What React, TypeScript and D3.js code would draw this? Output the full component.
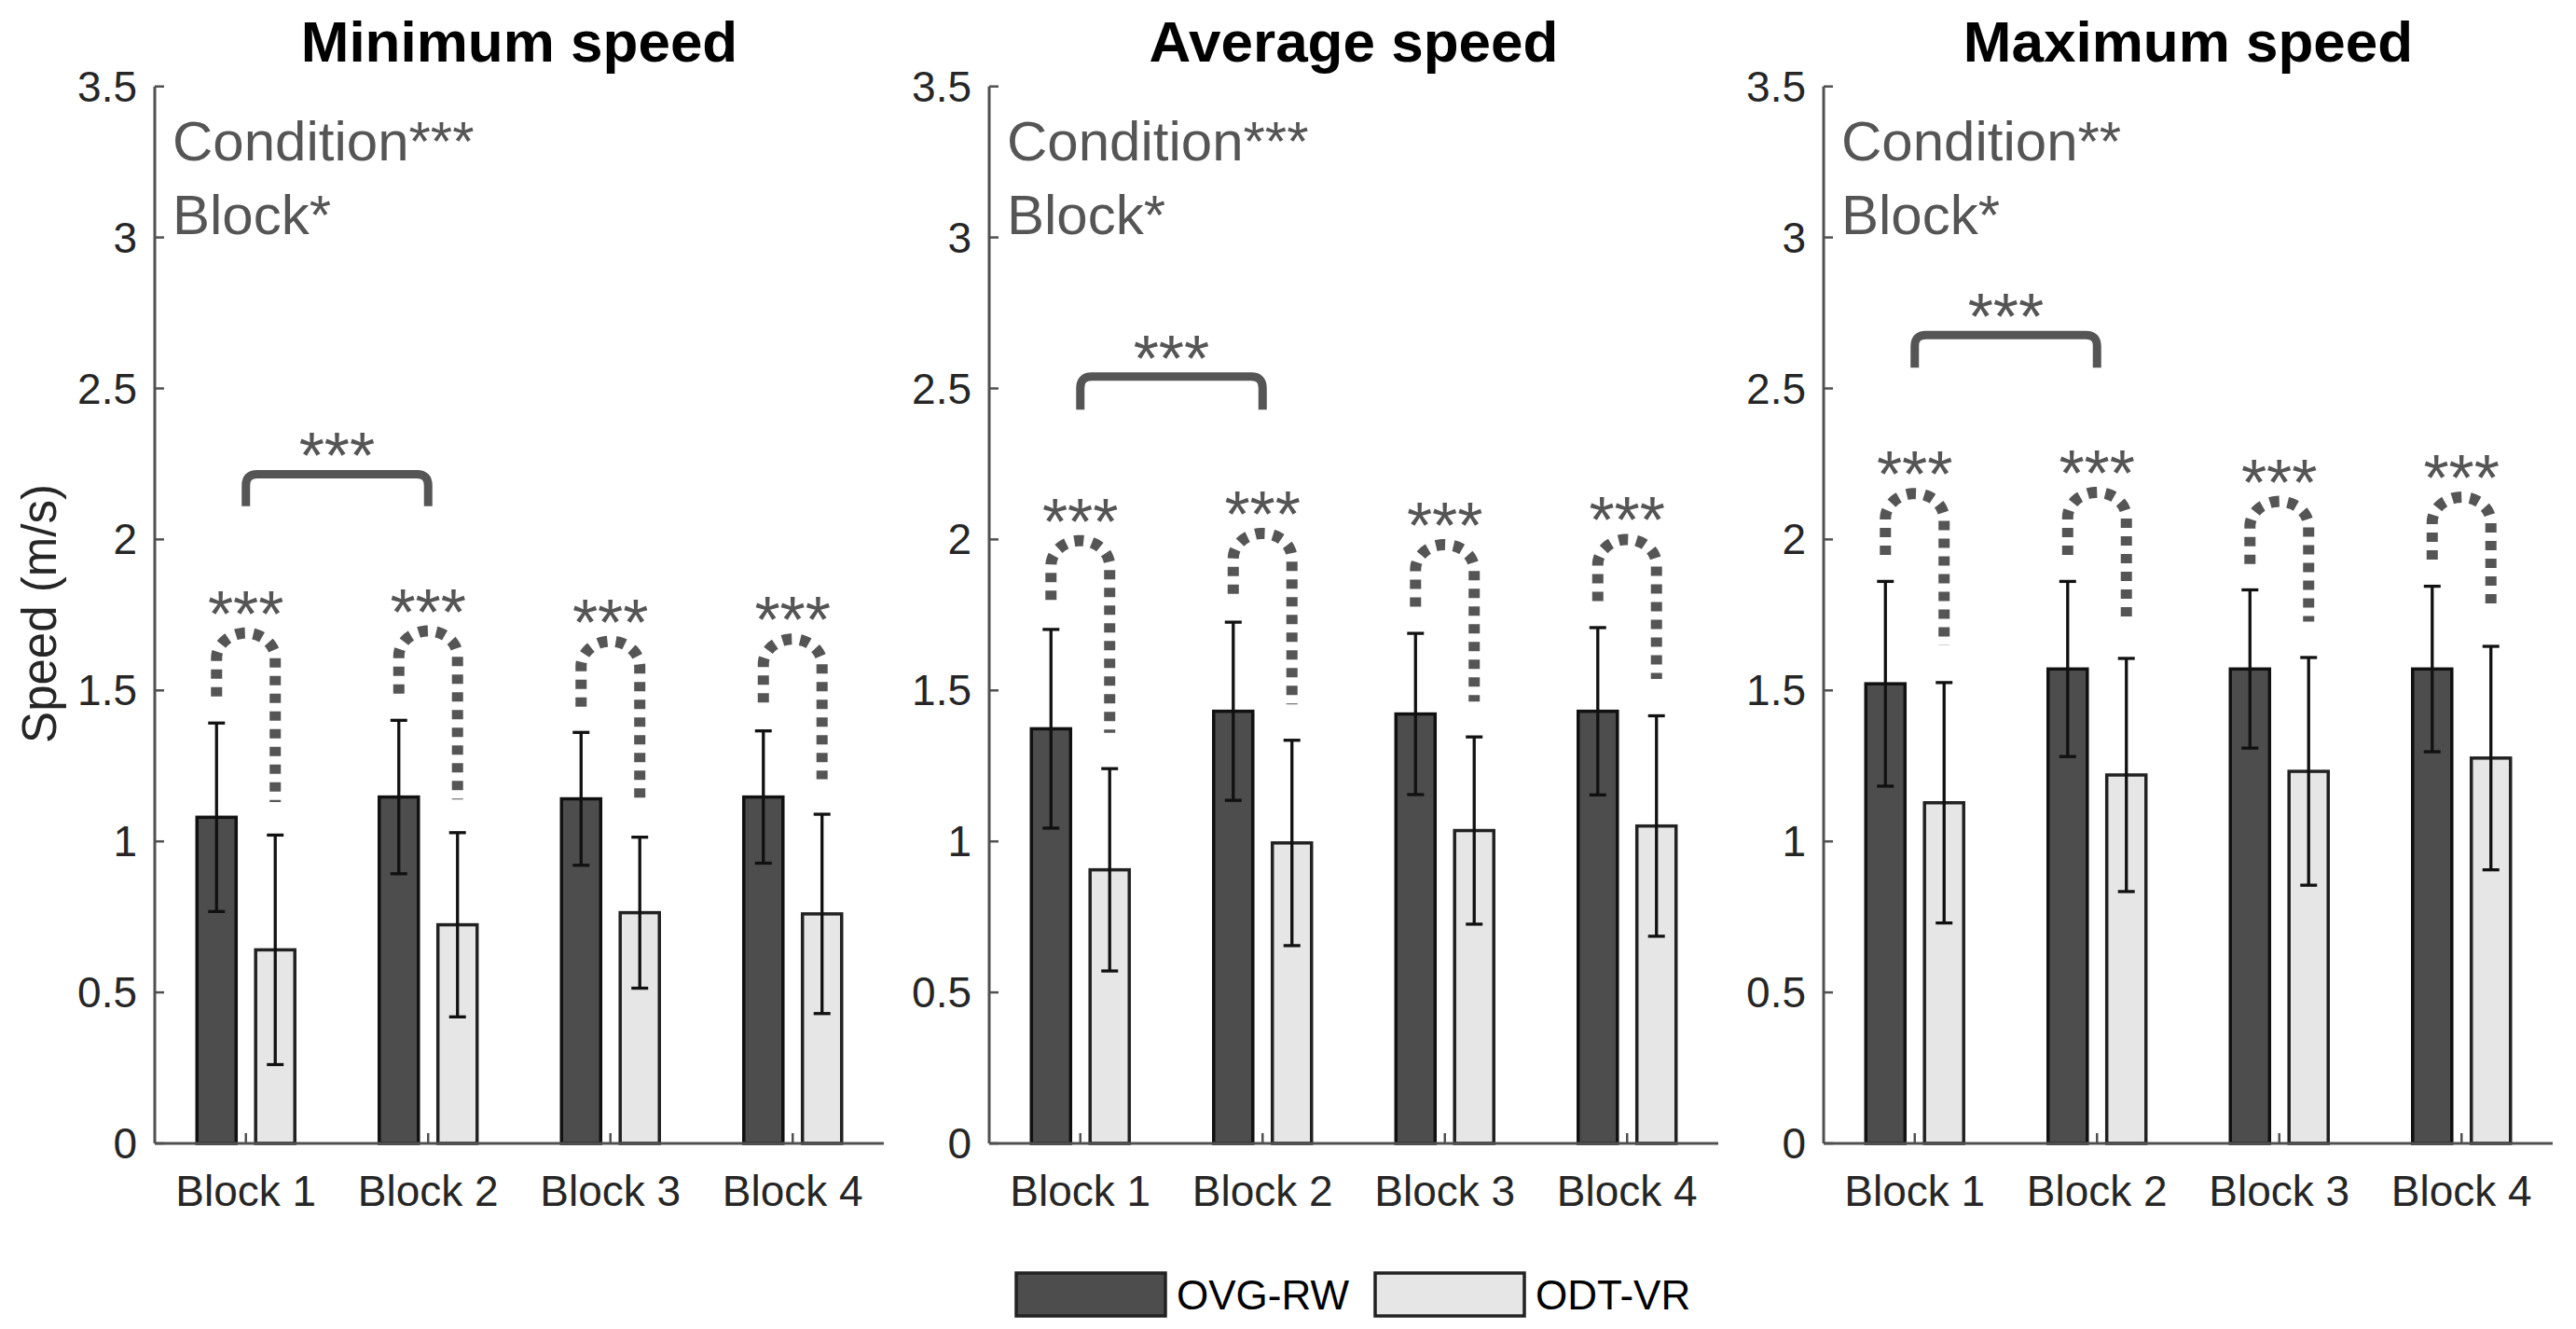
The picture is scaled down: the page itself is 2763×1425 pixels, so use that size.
import * as d3 from "d3";

// --- data ---
const blocks = ["Block 1", "Block 2", "Block 3", "Block 4"];
const panelTitles = ["Minimum speed", "Average speed", "Maximum speed"];
const conditionLabels = ["Condition***", "Condition***", "Condition**"];
const blockEffectLabels = ["Block*", "Block*", "Block*"];
const seriesNames = ["OVG-RW", "ODT-VR"];

// means (m/s)
const ovgMean = [
  [1.08, 1.147, 1.141, 1.147],
  [1.373, 1.431, 1.422, 1.431],
  [1.522, 1.571, 1.571, 1.571],
];
const odtMean = [
  [0.641, 0.724, 0.764, 0.76],
  [0.906, 0.995, 1.036, 1.051],
  [1.128, 1.22, 1.232, 1.276],
];
// standard deviations
const ovgSd = [
  [0.312, 0.254, 0.22, 0.219],
  [0.329, 0.295, 0.267, 0.277],
  [0.339, 0.29, 0.262, 0.274],
];
const odtSd = [
  [0.38, 0.305, 0.25, 0.33],
  [0.335, 0.34, 0.31, 0.365],
  [0.398, 0.386, 0.377, 0.37],
];

// condition comparison arcs (value units): left leg bottom, right leg bottom, apex
const arcLeft = [
  [1.48, 1.489, 1.446, 1.46],
  [1.8, 1.82, 1.777, 1.796],
  [1.949, 1.949, 1.919, 1.933],
];
const arcRight = [
  [1.13, 1.139, 1.124, 1.206],
  [1.36, 1.454, 1.463, 1.538],
  [1.65, 1.728, 1.728, 1.766],
];
const arcTop = [
  [1.69, 1.697, 1.663, 1.67],
  [1.996, 2.02, 1.983, 2.0],
  [2.152, 2.156, 2.126, 2.14],
];
// block 1 vs block 2 bracket: top and leg bottom
const bracketTop = [2.216, 2.539, 2.677];
const bracketBottom = [2.11, 2.43, 2.569];

const yTicks = [0, 0.5, 1, 1.5, 2, 2.5, 3, 3.5];

// --- layout ---
const W = 2763;
const H = 1425;
const axisLeft0 = 166;
const panelStep = 895;
const axisWidth = 782;
const yBottom = 1226;
const yTop = 92.7;
const barOffset = 0.161;
const barWidth = 0.215;

const FONT = "'Liberation Sans', Arial, Helvetica, sans-serif";
const AXIS = "#505050";
const TEXT = "#262626";
const NOTE = "#555555";
const DARK = "#4d4d4d";
const LIGHT = "#e6e6e6";

const y = d3.scaleLinear().domain([0, 3.5]).range([yBottom, yTop]);

function Panel({ p }: { p: number }) {
  const x0 = axisLeft0 + p * panelStep;
  const x = d3.scaleLinear().domain([0.5, 4.5]).range([x0, x0 + axisWidth]);
  const bw = x(1 + barWidth) - x(1);
  const off = x(1 + barOffset) - x(1);
  const cap = 9;
  const rx = off;
  const ry = 27;

  const arcPath = (i: number) => {
    const xl = x(i + 1) - off;
    const xr = x(i + 1) + off;
    const yt = y(arcTop[p][i]);
    const path = d3.path();
    path.moveTo(xl, y(arcLeft[p][i]));
    path.lineTo(xl, yt + ry);
    // half ellipse over the top
    const pts = d3.range(0, 41).map((k) => {
      const a = Math.PI - (k / 40) * Math.PI;
      return [xl + rx + rx * Math.cos(a), yt + ry - ry * Math.sin(a)];
    });
    pts.forEach(([px, py]) => path.lineTo(px, py));
    path.lineTo(xr, y(arcRight[p][i]));
    return path.toString();
  };

  const bx1 = x(1);
  const bx2 = x(2);
  const bt = y(bracketTop[p]);
  const bb = y(bracketBottom[p]);
  const r = 12;
  const bracket = `M${bx1},${bb} L${bx1},${bt + r} Q${bx1},${bt} ${bx1 + r},${bt} L${bx2 - r},${bt} Q${bx2},${bt} ${bx2},${bt + r} L${bx2},${bb}`;

  return (
    <g>
      <text
        x={(x0 + x0 + axisWidth) / 2}
        y={66}
        textAnchor="middle"
        fontFamily={FONT}
        fontWeight="bold"
        fontSize={62}
        fill="#000"
      >
        {panelTitles[p]}
      </text>

      {/* bars */}
      {blocks.map((b, i) => (
        <g key={b}>
          <rect
            x={x(i + 1) - off - bw / 2}
            y={y(ovgMean[p][i])}
            width={bw}
            height={y(0) - y(ovgMean[p][i])}
            fill={DARK}
            stroke="#111"
            strokeWidth={3.5}
          />
          <rect
            x={x(i + 1) + off - bw / 2}
            y={y(odtMean[p][i])}
            width={bw}
            height={y(0) - y(odtMean[p][i])}
            fill={LIGHT}
            stroke="#222"
            strokeWidth={3.5}
          />
          {[
            [x(i + 1) - off, ovgMean[p][i], ovgSd[p][i]],
            [x(i + 1) + off, odtMean[p][i], odtSd[p][i]],
          ].map(([cx, m, s], k) => (
            <g key={k} stroke="#111" strokeWidth={3.3}>
              <line x1={cx} x2={cx} y1={y(m - s)} y2={y(m + s)} />
              <line x1={cx - cap} x2={cx + cap} y1={y(m - s)} y2={y(m - s)} />
              <line x1={cx - cap} x2={cx + cap} y1={y(m + s)} y2={y(m + s)} />
            </g>
          ))}
          <path
            d={arcPath(i)}
            fill="none"
            stroke={NOTE}
            strokeWidth={12}
            strokeDasharray="10 9"
          />
          <text
            x={x(i + 1)}
            y={y(arcTop[p][i]) - 34 + 38}
            textAnchor="middle"
            fontFamily={FONT}
            fontSize={70}
            fill={NOTE}
          >
            ***
          </text>
        </g>
      ))}

      {/* block 1 vs 2 */}
      <path d={bracket} fill="none" stroke={NOTE} strokeWidth={9} />
      <text
        x={(bx1 + bx2) / 2}
        y={bt - 33 + 38}
        textAnchor="middle"
        fontFamily={FONT}
        fontSize={70}
        fill={NOTE}
      >
        ***
      </text>

      {/* axes */}
      <line x1={x0} x2={x0} y1={y(3.5)} y2={y(0)} stroke={AXIS} strokeWidth={3} />
      <line x1={x0} x2={x0 + axisWidth} y1={y(0)} y2={y(0)} stroke={AXIS} strokeWidth={3} />
      {yTicks.map((t) => (
        <g key={t}>
          <line x1={x0} x2={x0 + 10} y1={y(t)} y2={y(t)} stroke={AXIS} strokeWidth={2.5} />
          <text
            x={x0 - 19}
            y={y(t) + 16}
            textAnchor="end"
            fontFamily={FONT}
            fontSize={46}
            fill={TEXT}
          >
            {String(t)}
          </text>
        </g>
      ))}
      {blocks.map((b, i) => (
        <g key={b}>
          <line x1={x(i + 1)} x2={x(i + 1)} y1={y(0)} y2={y(0) - 11} stroke={AXIS} strokeWidth={2.5} />
          <text
            x={x(i + 1)}
            y={1293}
            textAnchor="middle"
            fontFamily={FONT}
            fontSize={46}
            fill={TEXT}
          >
            {b}
          </text>
        </g>
      ))}

      {/* ANOVA effects */}
      <text x={x0 + 19} y={172} fontFamily={FONT} fontSize={60} fill={NOTE}>
        {conditionLabels[p]}
      </text>
      <text x={x0 + 19} y={251} fontFamily={FONT} fontSize={60} fill={NOTE}>
        {blockEffectLabels[p]}
      </text>
    </g>
  );
}

export default function App() {
  return (
    <svg
      width={W}
      height={H}
      viewBox={`0 0 ${W} ${H}`}
      style={{ position: "absolute", left: 0, top: 0, background: "#fff" }}
    >
      <rect width={W} height={H} fill="#fff" />
      {panelTitles.map((t, p) => (
        <Panel key={t} p={p} />
      ))}

      <text
        transform={`translate(60,658) rotate(-90)`}
        textAnchor="middle"
        fontFamily={FONT}
        fontSize={51}
        fill={TEXT}
      >
        Speed (m/s)
      </text>

      {/* legend */}
      {seriesNames.map((s, k) => {
        const lx = k === 0 ? 1090 : 1475;
        return (
          <g key={s}>
            <rect
              x={lx}
              y={1365}
              width={160}
              height={46}
              fill={k === 0 ? DARK : LIGHT}
              stroke="#222"
              strokeWidth={3.5}
            />
            <text x={lx + 172} y={1404} fontFamily={FONT} fontSize={44} fill="#000">
              {s}
            </text>
          </g>
        );
      })}
    </svg>
  );
}
